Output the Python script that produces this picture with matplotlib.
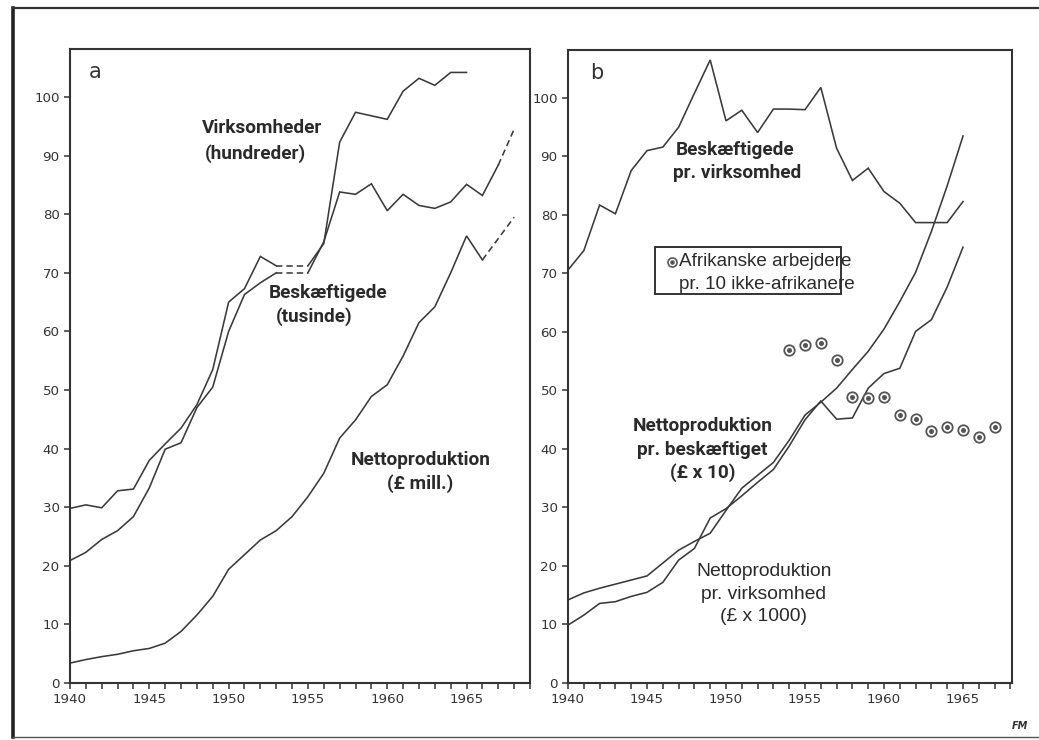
import matplotlib
matplotlib.use("Agg")
import matplotlib.pyplot as plt
from matplotlib.patches import Rectangle
from matplotlib.lines import Line2D

# ---------------- data: panel a ----------------
years_virk = list(range(1940, 1966))
virksomheder = [29.8, 30.4, 29.9, 32.8, 33.1, 38.0, 40.8, 43.5, 47.5, 53.5,
                65.0, 67.3, 72.8, 71.2, 71.2, 71.2, 75.0, 92.3, 97.4, 96.8,
                96.2, 101.0, 103.2, 102.0, 104.2, 104.2]
virk_dashed = (1953, 1955)

years_besk = list(range(1940, 1968)) + [1968]
beskaeftigede = [20.9, 22.3, 24.5, 26.0, 28.4, 33.3, 39.9, 41.0, 47.0, 50.5,
                 60.0, 66.3, 68.3, 70.0, 70.0, 70.0, 75.3, 83.8, 83.4, 85.2,
                 80.6, 83.4, 81.5, 81.0, 82.1, 85.1, 83.2, 88.4, 94.5]
besk_dashed = [(1953, 1955), (1967, 1968)]

years_netto = list(range(1940, 1967)) + [1968]
netto_mill = [3.4, 4.0, 4.5, 4.9, 5.5, 5.9, 6.8, 8.8, 11.6, 14.8,
              19.4, 21.9, 24.4, 26.0, 28.4, 31.8, 35.8, 41.8, 44.9, 48.9,
              50.9, 55.8, 61.5, 64.2, 70.0, 76.3, 72.2, 79.5]
netto_dashed = [(1966, 1968)]

# ---------------- data: panel b ----------------
years_b = list(range(1940, 1966))
besk_pr_virk = [70.6, 73.9, 81.7, 80.2, 87.6, 91.0, 91.6, 95.0, 100.8, 106.5,
                96.1, 97.9, 94.1, 98.1, 98.1, 98.0, 101.8, 91.4, 85.9, 88.0,
                84.0, 82.0, 78.7, 78.7, 78.7, 82.3]
netto_pr_besk = [14.2, 15.4, 16.2, 16.9, 17.6, 18.3, 20.5, 22.7, 24.2, 25.6,
                 29.5, 33.3, 35.5, 37.7, 41.5, 45.8, 48.0, 50.4, 53.6, 56.7,
                 60.5, 65.2, 70.2, 77.2, 85.0, 93.5]
netto_pr_virk = [9.9, 11.6, 13.6, 13.9, 14.8, 15.5, 17.2, 21.0, 23.0, 28.2,
                 29.8, 32.0, 34.3, 36.5, 40.5, 45.0, 48.2, 45.1, 45.3, 50.4,
                 52.9, 53.8, 60.1, 62.1, 67.7, 74.5]
years_afr = list(range(1954, 1968))
afrikanske = [57.0, 57.8, 58.2, 55.2, 48.9, 48.8, 48.9, 45.8, 45.2, 43.1,
              43.8, 43.2, 42.0, 43.8]

yticks = list(range(0, 101, 10))
xticks_major = [1940, 1945, 1950, 1955, 1960, 1965]

# ---------------- styling ----------------
LC = "#3a3a3a"
LW = 1.15
W, H = 1039, 740
fig = plt.figure(figsize=(W / 100, H / 100), dpi=100)
fig.patch.set_facecolor("white")

# outer frame
fig.add_artist(Line2D([13 / W, 13 / W], [1 - 8 / H, 1 - 737 / H], color="#222", lw=2.6))
fig.add_artist(Line2D([13 / W, 1.0], [1 - 8 / H, 1 - 8 / H], color="#333", lw=1.6))
fig.add_artist(Line2D([13 / W, 1.0], [1 - 737 / H, 1 - 737 / H], color="#555", lw=1.0))
fig.text(1020 / W, 1 - 726 / H, "FM", fontsize=7, fontstyle="italic",
         fontweight="bold", color="#333", ha="center", va="center")

axA = fig.add_axes([70 / W, 1 - 683 / H, (530 - 70) / W, (683 - 49) / H])
axB = fig.add_axes([568 / W, 1 - 683 / H, (1012 - 568) / W, (683 - 50) / H])

TICKFONT = dict(family="DejaVu Sans", size=9.6)
for ax, xr in ((axA, 1969.0), (axB, 1968.1)):
    ax.set_xlim(1940, xr)
    ax.set_ylim(0, 108.2)
    ax.set_yticks(yticks)
    ax.set_xticks(xticks_major)
    ax.set_xticks(list(range(1941, int(xr) + 1)), minor=True)
    ax.tick_params(axis="both", which="both", direction="out", length=4.5,
                   width=1.1, color="#333", labelcolor="#333", pad=3)
    ax.tick_params(axis="x", which="minor", length=4)
    for lab in ax.get_xticklabels() + ax.get_yticklabels():
        lab.set_fontfamily(TICKFONT["family"])
        lab.set_fontsize(TICKFONT["size"])
    for s in ax.spines.values():
        s.set_color("#333")
        s.set_linewidth(1.5)


def plot_series(ax, xs, ys, dashed_ranges=()):
    # solid everywhere except inside dashed ranges
    pts = list(zip(xs, ys))
    segs = []
    cur = [pts[0]]
    cur_dash = False
    for (x0, y0), (x1, y1) in zip(pts[:-1], pts[1:]):
        d = any(a <= x0 and x1 <= b for a, b in dashed_ranges)
        if d != cur_dash and len(cur) > 1:
            segs.append((cur, cur_dash))
            cur = [(x0, y0)]
        cur_dash = d
        cur.append((x1, y1))
    segs.append((cur, cur_dash))
    for seg, d in segs:
        sx, sy = zip(*seg)
        ax.plot(sx, sy, color=LC, lw=LW,
                linestyle=(0, (4, 2.5)) if d else "-", solid_joinstyle="miter")


# ---------------- panel a ----------------
plot_series(axA, years_virk, virksomheder, [virk_dashed])
plot_series(axA, years_besk, beskaeftigede, besk_dashed)
plot_series(axA, years_netto, netto_mill, netto_dashed)

LBL = dict(family="Roboto", size=13.7, weight="bold", color="#2a2a2a", va="center")
axA.text(1941.2, 104.2, "a", family="DejaVu Sans", size=15, color="#333", va="center")
axA.text(1952.1, 94.7, "Virksomheder", ha="center", **LBL)
axA.text(1951.7, 90.4, "(hundreder)", ha="center", **LBL)
axA.text(1956.3, 66.5, "Beskæftigede", ha="center", **LBL)
axA.text(1955.4, 62.5, "(tusinde)", ha="center", **LBL)
axA.text(1962.1, 38.0, "Nettoproduktion", ha="center", **LBL)
axA.text(1962.1, 34.1, "(£ mill.)", ha="center", **LBL)

# ---------------- panel b ----------------
plot_series(axB, years_b, besk_pr_virk)
plot_series(axB, years_b, netto_pr_besk)
plot_series(axB, years_b, netto_pr_virk)
axB.plot(years_afr, afrikanske, linestyle="none", marker="o", ms=7.5,
         mfc="white", mec="#555", mew=1.3)
axB.plot(years_afr, afrikanske, linestyle="none", marker="o", ms=2.6,
         mfc="#555", mec="#555")

axB.text(1941.4, 104.2, "b", family="DejaVu Sans", size=15, color="#333", va="center")
axB.text(1950.6, 91.1, "Beskæftigede", ha="center", **LBL)
axB.text(1950.7, 87.2, "pr. virksomhed", ha="center", **LBL)
axB.text(1948.5, 43.9, "Nettoproduktion", ha="center", **LBL)
axB.text(1948.5, 39.8, "pr. beskæftiget", ha="center", **LBL)
axB.text(1948.5, 35.9, "(£ x 10)", ha="center", **LBL)

REG = dict(family="Liberation Sans", size=13.9, color="#2a2a2a", va="center", ha="center")
axB.text(1952.4, 19.1, "Nettoproduktion", **REG)
axB.text(1952.4, 15.2, "pr. virksomhed", **REG)
axB.text(1952.4, 11.3, "(£ x 1000)", **REG)

# legend box
axB.add_patch(Rectangle((1945.5, 66.5), 1957.3 - 1945.5, 74.5 - 66.5,
                        fill=False, ec="#333", lw=1.4))
axB.plot([1946.6], [72.0], linestyle="none", marker="o", ms=6.5,
         mfc="white", mec="#555", mew=1.2)
axB.plot([1946.6], [72.0], linestyle="none", marker="o", ms=2.3,
         mfc="#555", mec="#555")
LEG = dict(family="Liberation Sans", size=13.6, color="#2a2a2a", va="center", ha="left")
axB.text(1947.0, 72.0, "Afrikanske arbejdere", **LEG)
axB.text(1947.0, 68.2, "pr. 10 ikke-afrikanere", **LEG)

fig.savefig("out.png", dpi=100, facecolor="white")
